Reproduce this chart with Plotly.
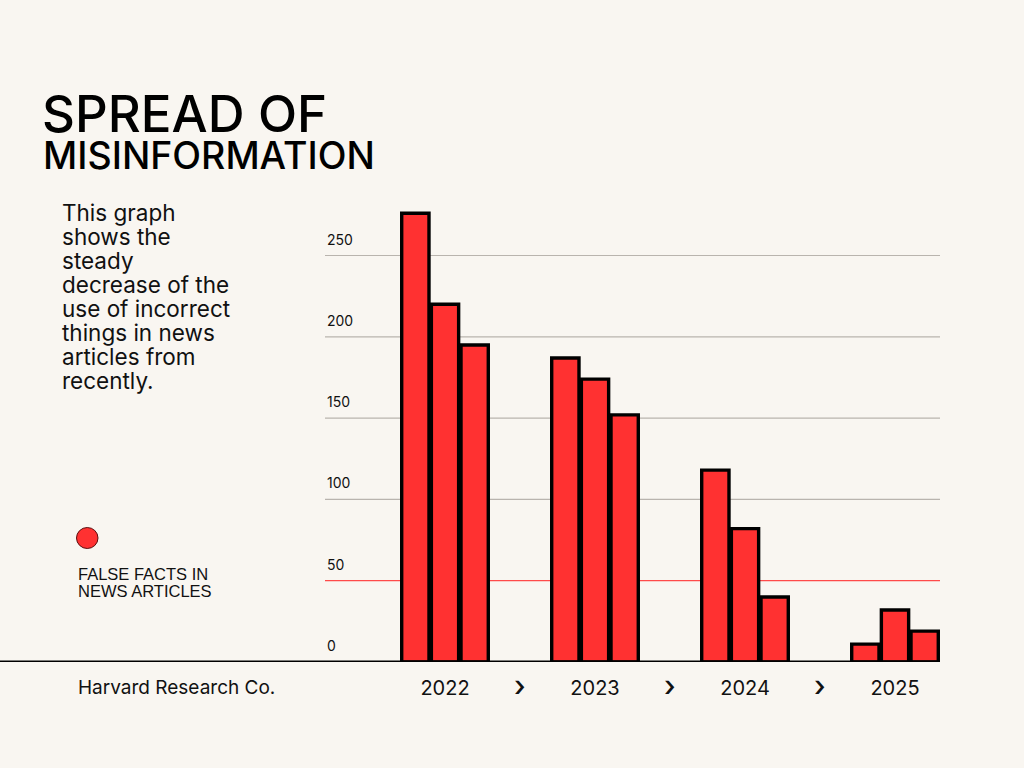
import plotly.graph_objects as go

# ---- data ----
years = ["2022", "2023", "2024", "2025"]
series_a = [276, 187, 118, 11]
series_b = [220, 174, 82, 32]
series_c = [195, 152, 40, 19]
y_ticks = [0, 50, 100, 150, 200, 250]

title_lines = ["SPREAD OF", "MISINFORMATION"]
body_lines = ["This graph", "shows the", "steady", "decrease of the",
              "use of incorrect", "things in news", "articles from", "recently."]
legend_lines = ["FALSE FACTS IN", "NEWS ARTICLES"]
footer_text = "Harvard Research Co."

# ---- layout geometry (pixels) ----
W, H = 1024, 768
L, R, T, B = 325, 940, 200, 662
PW, PH = R - L, B - T

BG = "#f9f6f1"
RED = "#ff3131"
INK = "#111111"


def px(x):
    return (x - L) / PW


def py(y):
    return (B - y) / PH


fig = go.Figure()
for vals, nm in zip([series_a, series_b, series_c], ["A", "B", "C"]):
    fig.add_trace(go.Bar(
        x=years, y=vals, name=nm,
        marker=dict(color=RED, line=dict(color="#000000", width=3.4)),
        showlegend=False, cliponaxis=False,
    ))

shapes = []
annotations = []

# grid lines + tick labels
for v in y_ticks:
    if v > 0:
        shapes.append(dict(type="line", xref="paper", yref="y", x0=0, x1=1, y0=v, y1=v,
                           line=dict(color="#ff4a4a" if v == 50 else "#b9b4ae", width=1.2),
                           layer="below"))
    annotations.append(dict(text=str(v), xref="paper", yref="y", x=0, y=v,
                            xanchor="left", yanchor="bottom", yshift=6, showarrow=False,
                            font=dict(family="Inter", size=14, color=INK)))

# baseline
shapes.append(dict(type="line", xref="paper", yref="y", x0=px(0), x1=1, y0=0, y1=0,
                   line=dict(color="#000000", width=3.2), layer="above"))

# arrows between years
for i in range(len(years) - 1):
    annotations.append(dict(text="›", xref="x", yref="paper", x=i + 0.5, y=py(685),
                            xanchor="center", yanchor="middle", showarrow=False,
                            font=dict(family="Inter", size=29, color=INK, weight=500)))

# title
annotations.append(dict(text=title_lines[0], xref="paper", yref="paper", x=px(40), y=py(114),
                        xanchor="left", yanchor="middle", showarrow=False,
                        font=dict(family="Inter", size=51, color="#000000", weight=500)))
annotations.append(dict(text=title_lines[1], xref="paper", yref="paper", x=px(41), y=py(155),
                        xanchor="left", yanchor="middle", showarrow=False,
                        font=dict(family="Inter", size=37.5, color="#000000", weight=500)))

# body text
for i, line in enumerate(body_lines):
    annotations.append(dict(text=line, xref="paper", yref="paper", x=px(60), y=py(212 + 24 * i),
                            xanchor="left", yanchor="middle", showarrow=False,
                            font=dict(family="Inter", size=22.5, color=INK)))

# legend
shapes.append(dict(type="circle", xref="paper", yref="paper",
                   x0=px(76.5), x1=px(98), y0=py(548.5), y1=py(527.5),
                   fillcolor=RED, line=dict(color="#5a1010", width=1)))
for i, line in enumerate(legend_lines):
    annotations.append(dict(text=line, xref="paper", yref="paper", x=px(76), y=py(574 + 17 * i),
                            xanchor="left", yanchor="middle", showarrow=False,
                            font=dict(family="Liberation Sans", size=16.5, color=INK)))

# footer
annotations.append(dict(text=footer_text, xref="paper", yref="paper", x=px(76), y=py(687),
                        xanchor="left", yanchor="middle", showarrow=False,
                        font=dict(family="Inter", size=19, color=INK)))

fig.update_layout(
    width=W, height=H,
    margin=dict(l=L, r=W - R, t=T, b=H - B, pad=0),
    paper_bgcolor=BG, plot_bgcolor=BG,
    barmode="group", bargap=0.407, bargroupgap=0.08,
    xaxis=dict(range=[-0.8, 3.3], showgrid=False, zeroline=False, showline=False,
               ticks="outside", ticklen=8, tickcolor="rgba(0,0,0,0)",
               tickfont=dict(family="Inter", size=20, color=INK), fixedrange=True),
    yaxis=dict(range=[0, (B - T) / 1.626], showgrid=False, zeroline=False, showline=False,
               showticklabels=False, fixedrange=True),
    shapes=shapes, annotations=annotations,
    showlegend=False,
)

fig.write_html("out.html", config={"displayModeBar": False},
               post_script="document.body.style.margin='0';document.body.style.background='%s';" % BG)
